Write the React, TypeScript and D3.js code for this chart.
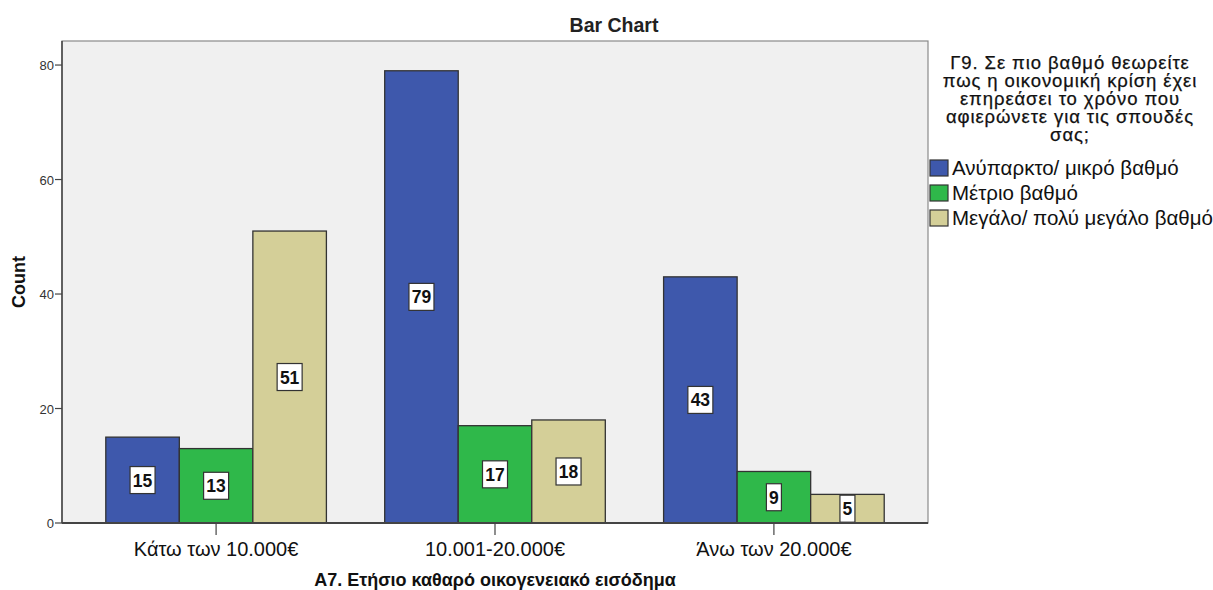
import React from "react";
import * as d3 from "d3";

const categories = ["Κάτω των 10.000€", "10.001-20.000€", "Άνω των 20.000€"];
const seriesNames = ["Ανύπαρκτο/ μικρό βαθμό", "Μέτριο βαθμό", "Μεγάλο/ πολύ μεγάλο βαθμό"];
const seriesColors = ["#3e58ac", "#2fb84a", "#d4cf98"];
const values: number[][] = [
  [15, 13, 51],
  [79, 17, 18],
  [43, 9, 5],
];
const yTicks = [0, 20, 40, 60, 80];
const legendTitle = [
  "Γ9. Σε πιο βαθμό θεωρείτε",
  "πως η οικονομική κρίση έχει",
  "επηρεάσει το χρόνο που",
  "αφιερώνετε για τις σπουδές",
  "σας;",
];

export default function App() {
  const W = 1213, H = 590;
  const L = 62, R = 928, T = 41, B = 523;
  const font = "'Liberation Sans', Arial, sans-serif";
  const y = d3.scaleLinear().domain([0, 84.2]).range([B, T]);
  const x0 = d3.scaleBand<string>().domain(categories).range([L, R]).paddingInner(0.209).paddingOuter(0.157);
  const x1 = d3.scaleBand<number>().domain([0, 1, 2]).range([0, x0.bandwidth()]);
  return (
    <svg width={W} height={H} style={{ position: "absolute", left: 0, top: 0, background: "#fff" }} fontFamily={font}>
      <rect x={L} y={T} width={R - L} height={B - T} fill="#f0f0f0" stroke="#8a8a8a" strokeWidth={1.2} />
      <text x={614} y={32} textAnchor="middle" fontSize={19.5} fontWeight="bold" fill="#222">Bar Chart</text>
      {values.map((row, ci) =>
        row.map((v, si) => {
          const bx = (x0(categories[ci]) as number) + (x1(si) as number);
          const bw = x1.bandwidth();
          return (
            <rect key={`b${ci}-${si}`} x={bx} y={y(v)} width={bw} height={B - y(v)} fill={seriesColors[si]} stroke="#333" strokeWidth={1.3} />
          );
        })
      )}
      {values.map((row, ci) =>
        row.map((v, si) => {
          const cx = (x0(categories[ci]) as number) + (x1(si) as number) + x1.bandwidth() / 2;
          const cy = (y(v) + B) / 2;
          const s = String(v);
          const bw = s.length === 1 ? 15 : 25;
          return (
            <g key={`l${ci}-${si}`}>
              <rect x={cx - bw / 2} y={cy - 13.5} width={bw} height={27} fill="#fff" stroke="#333" strokeWidth={1.2} />
              <text x={cx} y={cy + 6.5} textAnchor="middle" fontSize={17.5} fontWeight="bold" fill="#111">{s}</text>
            </g>
          );
        })
      )}
      <line x1={L} x2={L} y1={T} y2={B} stroke="#333" strokeWidth={1.3} />
      <line x1={L} x2={R} y1={B} y2={B} stroke="#444" strokeWidth={2} />
      {yTicks.map((t) => (
        <g key={`yt${t}`}>
          <line x1={L - 7} x2={L} y1={y(t)} y2={y(t)} stroke="#444" strokeWidth={1.2} />
          <text x={L - 8} y={y(t) + 5} textAnchor="end" fontSize={13} fill="#333">{t}</text>
        </g>
      ))}
      {categories.map((c) => {
        const cx = (x0(c) as number) + x0.bandwidth() / 2;
        return (
          <g key={`xt${c}`}>
            <line x1={cx} x2={cx} y1={B} y2={B + 12} stroke="#444" strokeWidth={1.2} />
            <text x={cx} y={556} textAnchor="middle" fontSize={20} fill="#111">{c}</text>
          </g>
        );
      })}
      <text x={(L + R) / 2} y={586} textAnchor="middle" fontSize={18} fontWeight="bold" fill="#111">A7. Ετήσιο καθαρό οικογενειακό εισόδημα</text>
      <text transform={`translate(25,${(T + B) / 2}) rotate(-90)`} textAnchor="middle" fontSize={18} fontWeight="bold" fill="#111">Count</text>
      <text x={1070} y={69} textAnchor="middle" fontSize={18.5} letterSpacing={0.9} fill="#111" stroke="#111" strokeWidth={0.25}>
        {legendTitle.map((ln, i) => (
          <tspan key={`lt${i}`} x={1070} dy={i === 0 ? 0 : 18}>{ln}</tspan>
        ))}
      </text>
      {seriesNames.map((n, i) => (
        <g key={`lg${i}`}>
          <rect x={930} y={160 + i * 25} width={18} height={16} fill={seriesColors[i]} stroke="#333" strokeWidth={1.2} />
          <text x={952} y={175 + i * 25} fontSize={20.5} fill="#111">{n}</text>
        </g>
      ))}
    </svg>
  );
}
